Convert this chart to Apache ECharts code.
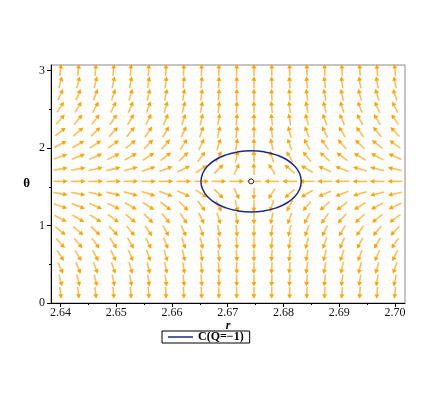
<!DOCTYPE html>
<html>
<head>
<meta charset="utf-8">
<script src="https://cdn.jsdelivr.net/npm/echarts@6/dist/echarts.min.js"></script>
<style>html,body{margin:0;padding:0;background:#fff}#c{width:436px;height:409px}</style>
</head>
<body>
<div id="c"></div>
<script>
// ---- data ----
const rCols = [2.6400, 2.6432, 2.6463, 2.6495, 2.6526, 2.6558, 2.6589, 2.6621, 2.6653, 2.6684,
               2.6716, 2.6747, 2.6779, 2.6811, 2.6842, 2.6874, 2.6905, 2.6937, 2.6968, 2.7000];
const thetaRows = [0.131, 0.291, 0.451, 0.611, 0.771, 0.931, 1.091, 1.251, 1.411, 1.571,
                   1.731, 1.891, 2.051, 2.211, 2.371, 2.531, 2.691, 2.851, 3.011];
// horizontal push of the arrows in each column (+ = right)
const colPush = [1.00, 0.91, 0.82, 0.73, 0.64, 0.54, 0.45, 0.36, 0.26, 0.17,
                 0.08, -0.01, -0.11, -0.20, -0.29, -0.39, -0.48, -0.57, -0.66, -0.76];
// vertical push of the arrows in each row (+ = up)
const rowPush = [-10.0, -4.26, -2.69, -1.86, -1.34, -0.97, -0.66, -0.43, -0.21, 0,
                 0.21, 0.43, 0.66, 0.97, 1.34, 1.86, 2.69, 4.26, 10.0];
// C(Q=-1) contour
const ellipseR = [2.6832, 2.6829, 2.6820, 2.6806, 2.6787, 2.6765, 2.6742, 2.6719, 2.6697, 2.6678,
                  2.6664, 2.6655, 2.6652, 2.6655, 2.6664, 2.6678, 2.6697, 2.6719, 2.6742, 2.6765,
                  2.6787, 2.6806, 2.6820, 2.6829, 2.6832];
const ellipseTheta = [1.5708, 1.6730, 1.7683, 1.8501, 1.9129, 1.9523, 1.9658, 1.9523, 1.9129, 1.8501,
                      1.7683, 1.6730, 1.5708, 1.4686, 1.3733, 1.2915, 1.2287, 1.1893, 1.1758, 1.1893,
                      1.2287, 1.2915, 1.3733, 1.4686, 1.5708];
const pointR = [2.6742];
const pointTheta = [1.5708];
const xTicks = [2.64, 2.65, 2.66, 2.67, 2.68, 2.69, 2.70];
const xMinorTicks = [2.645, 2.655, 2.665, 2.675, 2.685, 2.695];
const yTicks = [0, 1, 2, 3];
const yMinorTicks = [0.5, 1.5, 2.5];
const legendName = 'C(Q=\u22121)';

// ---- build tables ----
const arrowData = [];
for (let i = 0; i < thetaRows.length; i++) {
  for (let j = 0; j < rCols.length; j++) {
    arrowData.push([rCols[j], thetaRows[i], colPush[j], rowPush[i]]);
  }
}
const ellipseData = ellipseR.map((r, k) => [r, ellipseTheta[k]]);
const pointData = pointR.map((r, k) => [r, pointTheta[k]]);

const serif = 'Liberation Serif';
const chart = echarts.init(document.getElementById('c'), null, {renderer: 'canvas'});

function renderArrow(params, api) {
  const u = api.value(2), v = api.value(3);
  const c = api.coord([api.value(0), api.value(1)]);
  const a = Math.atan2(v, u);
  const dx = 7.3 * Math.cos(a), dy = -6 * Math.sin(a);
  const len = Math.sqrt(dx * dx + dy * dy);
  const ux = dx / len, uy = dy / len;
  const tail = [c[0] - dx, c[1] - dy];
  const tip = [c[0] + dx, c[1] + dy];
  const hl = 4.5, hw = 2.4;
  const base = [tip[0] - ux * hl, tip[1] - uy * hl];
  const left = [base[0] - uy * hw, base[1] + ux * hw];
  const right = [base[0] + uy * hw, base[1] - ux * hw];
  return {
    type: 'group',
    children: [
      {type: 'line', shape: {x1: tail[0], y1: tail[1], x2: base[0] + ux, y2: base[1] + uy},
       style: {stroke: '#FFBE55', lineWidth: 1.6}},
      {type: 'polygon', shape: {points: [tip, left, right]}, style: {fill: '#FFA500'}}
    ]
  };
}

const axisLabelStyle = {fontFamily: serif, fontSize: 12, color: '#111'};

chart.setOption({
  animation: false,
  grid: {left: 51, right: 31, top: 65, bottom: 106, show: true, borderColor: '#8a8a8a', borderWidth: 1},
  legend: {
    data: [legendName],
    left: 162, top: 331,
    padding: [0, 6, 0, 6],
    borderColor: '#000', borderWidth: 1,
    itemWidth: 25, itemHeight: 1.5, icon: 'rect', itemGap: 5,
    textStyle: {fontFamily: serif, fontWeight: 'bold', fontSize: 12, lineHeight: 12, color: '#000'}
  },
  xAxis: [{
    type: 'value', min: 2.6383, max: 2.7018, position: 'bottom',
    name: 'r', nameLocation: 'middle', nameGap: 17, nameMoveOverlap: false,
    nameTextStyle: {fontFamily: serif, fontStyle: 'italic', fontWeight: 'bold', fontSize: 12, color: '#000'},
    axisLine: {show: true, lineStyle: {color: '#000', width: 1}},
    axisTick: {show: true, length: 4, lineStyle: {color: '#000'}, customValues: xTicks},
    axisLabel: Object.assign({margin: 4, customValues: xTicks, formatter: v => v.toFixed(2)}, axisLabelStyle),
    splitLine: {show: false}
  }, {
    type: 'value', min: 2.6383, max: 2.7018, position: 'bottom',
    axisLine: {show: false},
    axisTick: {show: true, length: 2, lineStyle: {color: '#000'}, customValues: xMinorTicks},
    axisLabel: {show: false},
    splitLine: {show: false}
  }],
  yAxis: [{
    type: 'value', min: 0, max: 3.074, position: 'left',
    name: '\u03b8', nameLocation: 'middle', nameGap: 21, nameRotate: 0, nameMoveOverlap: false,
    nameTextStyle: {fontFamily: serif, fontWeight: 'bold', fontSize: 13, color: '#000'},
    axisLine: {show: true, lineStyle: {color: '#000', width: 1}},
    axisTick: {show: true, length: 4, lineStyle: {color: '#000'}, customValues: yTicks},
    axisLabel: Object.assign({margin: 6, customValues: yTicks, formatter: v => String(v)}, axisLabelStyle),
    splitLine: {show: false}
  }, {
    type: 'value', min: 0, max: 3.074, position: 'left',
    axisLine: {show: false},
    axisTick: {show: true, length: 2, lineStyle: {color: '#000'}, customValues: yMinorTicks},
    axisLabel: {show: false},
    splitLine: {show: false}
  }],
  series: [
    {
      type: 'custom', name: 'field', xAxisIndex: 0, yAxisIndex: 0,
      renderItem: renderArrow, data: arrowData, silent: true, z: 2
    },
    {
      type: 'line', name: legendName, xAxisIndex: 0, yAxisIndex: 0,
      data: ellipseData, smooth: true, showSymbol: false, symbol: 'none',
      lineStyle: {color: '#1C2A86', width: 1.5}, itemStyle: {color: '#1C2A86'}, z: 3
    },
    {
      type: 'scatter', name: 'point', xAxisIndex: 0, yAxisIndex: 0,
      data: pointData, symbol: 'circle', symbolSize: 5,
      itemStyle: {color: '#fff', borderColor: '#000', borderWidth: 1}, z: 4
    }
  ]
});
</script>
</body>
</html>
